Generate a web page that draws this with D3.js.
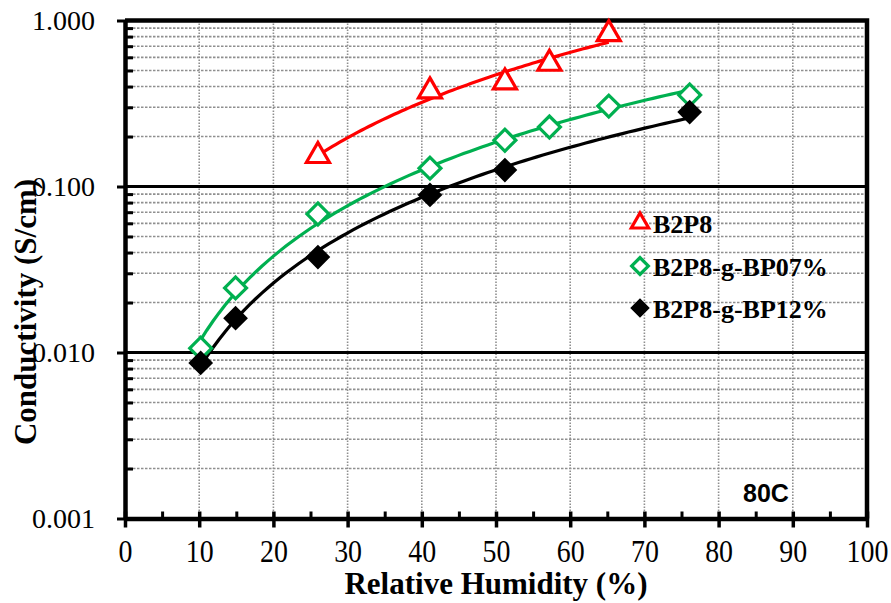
<!DOCTYPE html>
<html>
<head>
<meta charset="utf-8">
<script src="https://cdn.jsdelivr.net/npm/d3@7"></script>
<style>
  body { margin: 0; background: #fff; }
  svg { display: block; }
</style>
</head>
<body>
<div id="chart"></div>
<script>
// relative humidity (%) and conductivity (S/cm) at 80C
const rhB2P8 = [26.0, 41.1, 51.2, 57.2, 65.2];
const sigmaB2P8 = [0.153, 0.375, 0.425, 0.55, 0.83];

const rhBP07 = [10.2, 14.9, 26.0, 41.1, 51.2, 57.2, 65.2, 76.1];
const sigmaBP07 = [0.0106, 0.0245, 0.0683, 0.129, 0.19, 0.228, 0.305, 0.356];

const rhBP12 = [10.2, 14.9, 26.0, 41.1, 51.2, 76.1];
const sigmaBP12 = [0.00865, 0.0161, 0.0376, 0.089, 0.1256, 0.281];

const seriesNames = ["B2P8", "B2P8-g-BP07%", "B2P8-g-BP12%"];
const xTicks = [0, 10, 20, 30, 40, 50, 60, 70, 80, 90, 100];
const xMinorTicks = [5, 15, 25, 35, 45, 55, 65, 75, 85, 95];
const yTicks = [0.001, 0.01, 0.1, 1];
const yMinorTicks = [2, 3, 4, 5, 6, 7, 8, 9].flatMap(m => [0.001, 0.01, 0.1].map(d => m * d));

const width = 891, height = 603;
const plotLeft = 125, plotRight = 867, plotTop = 20.5, plotBottom = 518.5;
const serif = "'Liberation Serif', 'Times New Roman', serif";

const x = d3.scaleLinear().domain([0, 100]).range([plotLeft, plotRight]);
const y = d3.scaleLog().domain([0.001, 1]).range([plotBottom, plotTop]);

const svg = d3.select("#chart").append("svg")
  .attr("width", width)
  .attr("height", height);

// grid
svg.append("g").selectAll("line")
  .data(yMinorTicks)
  .enter().append("line")
  .attr("x1", plotLeft).attr("x2", plotRight)
  .attr("y1", d => y(d)).attr("y2", d => y(d))
  .attr("stroke", "#8f8f8f")
  .attr("stroke-width", 1.6)
  .attr("stroke-dasharray", "2.5,1.5");

svg.append("g").selectAll("line")
  .data(xTicks.filter(d => d > 0 && d < 100))
  .enter().append("line")
  .attr("x1", d => x(d)).attr("x2", d => x(d))
  .attr("y1", plotTop).attr("y2", plotBottom)
  .attr("stroke", "#8f8f8f")
  .attr("stroke-width", 1.6)
  .attr("stroke-dasharray", "1.5,1.5");

svg.append("g").selectAll("line")
  .data([0.01, 0.1])
  .enter().append("line")
  .attr("x1", plotLeft).attr("x2", plotRight)
  .attr("y1", d => y(d)).attr("y2", d => y(d))
  .attr("stroke", "#000")
  .attr("stroke-width", 3);

// frame top / right
svg.append("path")
  .attr("d", `M${plotLeft},${y(1)}H${plotRight}V${plotBottom}`)
  .attr("fill", "none")
  .attr("stroke", "#000")
  .attr("stroke-width", 4.5);

// x axis
const gx = svg.append("g")
  .attr("transform", `translate(0,${plotBottom})`)
  .call(d3.axisBottom(x).tickValues(xTicks).tickSize(9).tickSizeOuter(0));
gx.select(".domain").attr("stroke-width", 4.5);
gx.selectAll(".tick line").attr("y1", -7).attr("stroke-width", 3.5);
gx.selectAll(".tick text")
  .attr("y", 44).attr("dy", 0)
  .attr("transform", "scale(0.9,1)")
  .attr("font-family", serif)
  .attr("font-size", 31)
  .attr("fill", "#000");

const gxm = svg.append("g")
  .attr("transform", `translate(0,${plotBottom})`)
  .call(d3.axisTop(x).tickValues(xMinorTicks).tickSize(7).tickSizeOuter(0).tickFormat(""));
gxm.select(".domain").remove();
gxm.selectAll(".tick line").attr("stroke-width", 3);

// y axis
const gy = svg.append("g")
  .attr("transform", `translate(${plotLeft},0)`)
  .call(d3.axisLeft(y).tickValues(yTicks).tickFormat(d3.format(".3f")).tickSize(8).tickPadding(22).tickSizeOuter(0));
gy.select(".domain").attr("stroke-width", 4.5);
gy.selectAll(".tick line").attr("stroke-width", 3);
gy.selectAll(".tick text")
  .attr("font-family", serif)
  .attr("font-size", 28)
  .attr("fill", "#000");

const gym = svg.append("g")
  .attr("transform", `translate(${plotLeft},0)`)
  .call(d3.axisRight(y).tickValues(yMinorTicks).tickSize(8).tickSizeOuter(0).tickFormat(""));
gym.select(".domain").remove();
gym.selectAll(".tick line").attr("stroke-width", 3);

// power-law trend line fitted to each series
function powerFit(xs, ys) {
  const lx = xs.map(Math.log), ly = ys.map(Math.log);
  const mx = d3.mean(lx), my = d3.mean(ly);
  const b = d3.sum(lx, (v, i) => (v - mx) * (ly[i] - my)) / d3.sum(lx, v => (v - mx) * (v - mx));
  const a = Math.exp(my - b * mx);
  return v => a * Math.pow(v, b);
}

const series = [
  { name: seriesNames[0], xs: rhB2P8, ys: sigmaB2P8, color: "#ff0000", shape: "triangle", filled: false },
  { name: seriesNames[1], xs: rhBP07, ys: sigmaBP07, color: "#00b050", shape: "diamond", filled: false },
  { name: seriesNames[2], xs: rhBP12, ys: sigmaBP12, color: "#000000", shape: "diamond", filled: true }
];

const line = d3.line().x(d => x(d[0])).y(d => y(d[1]));

function marker(g, s, big) {
  const sym = s.shape === "triangle"
    ? d3.symbol().type(d3.symbolTriangle).size(big ? 230 : 130)
    : d3.symbol().type(d3.symbolSquare).size(big ? 240 : 140);
  const p = g.append("path")
    .attr("d", sym())
    .attr("fill", s.filled ? s.color : "#fff")
    .attr("stroke", s.color)
    .attr("stroke-width", s.filled ? 2 : 3.2)
    .attr("stroke-linejoin", "miter");
  if (s.shape === "diamond") p.attr("transform", "rotate(45)");
  return p;
}

series.forEach(s => {
  const f = powerFit(s.xs, s.ys);
  const x0 = d3.min(s.xs), x1 = d3.max(s.xs);
  const pts = d3.range(0, 81).map(i => {
    const v = x0 + (x1 - x0) * i / 80;
    return [v, f(v)];
  });
  svg.append("path")
    .attr("d", line(pts))
    .attr("fill", "none")
    .attr("stroke", s.color)
    .attr("stroke-width", 3.2);
});

series.forEach(s => {
  svg.append("g").selectAll("g")
    .data(s.xs.map((v, i) => [v, s.ys[i]]))
    .enter().append("g")
    .attr("transform", d => `translate(${x(d[0])},${y(d[1])})`)
    .each(function () { marker(d3.select(this), s, true); });
});

// legend
const legend = svg.append("g").attr("transform", "translate(640,223)");
series.forEach((s, i) => {
  const g = legend.append("g").attr("transform", `translate(0,${[0, 43, 85][i]})`);
  marker(g, s, false);
  g.append("text")
    .attr("x", 13)
    .attr("y", 10)
    .attr("font-family", serif)
    .attr("font-weight", "bold")
    .attr("font-size", 26)
    .attr("fill", "#000")
    .text(s.name);
});

svg.append("text")
  .attr("x", 766)
  .attr("y", 502)
  .attr("text-anchor", "middle")
  .attr("font-family", "'Liberation Sans', Arial, sans-serif")
  .attr("font-weight", "bold")
  .attr("font-size", 25)
  .attr("fill", "#000")
  .text("80C");

// axis titles
svg.append("text")
  .attr("x", 496)
  .attr("y", 594)
  .attr("text-anchor", "middle")
  .attr("font-family", serif)
  .attr("font-weight", "bold")
  .attr("font-size", 31)
  .text("Relative Humidity (%)");

svg.append("text")
  .attr("transform", "translate(36,312) rotate(-90)")
  .attr("text-anchor", "middle")
  .attr("font-family", serif)
  .attr("font-weight", "bold")
  .attr("font-size", 31)
  .text("Conductivity (S/cm)");
</script>
</body>
</html>
